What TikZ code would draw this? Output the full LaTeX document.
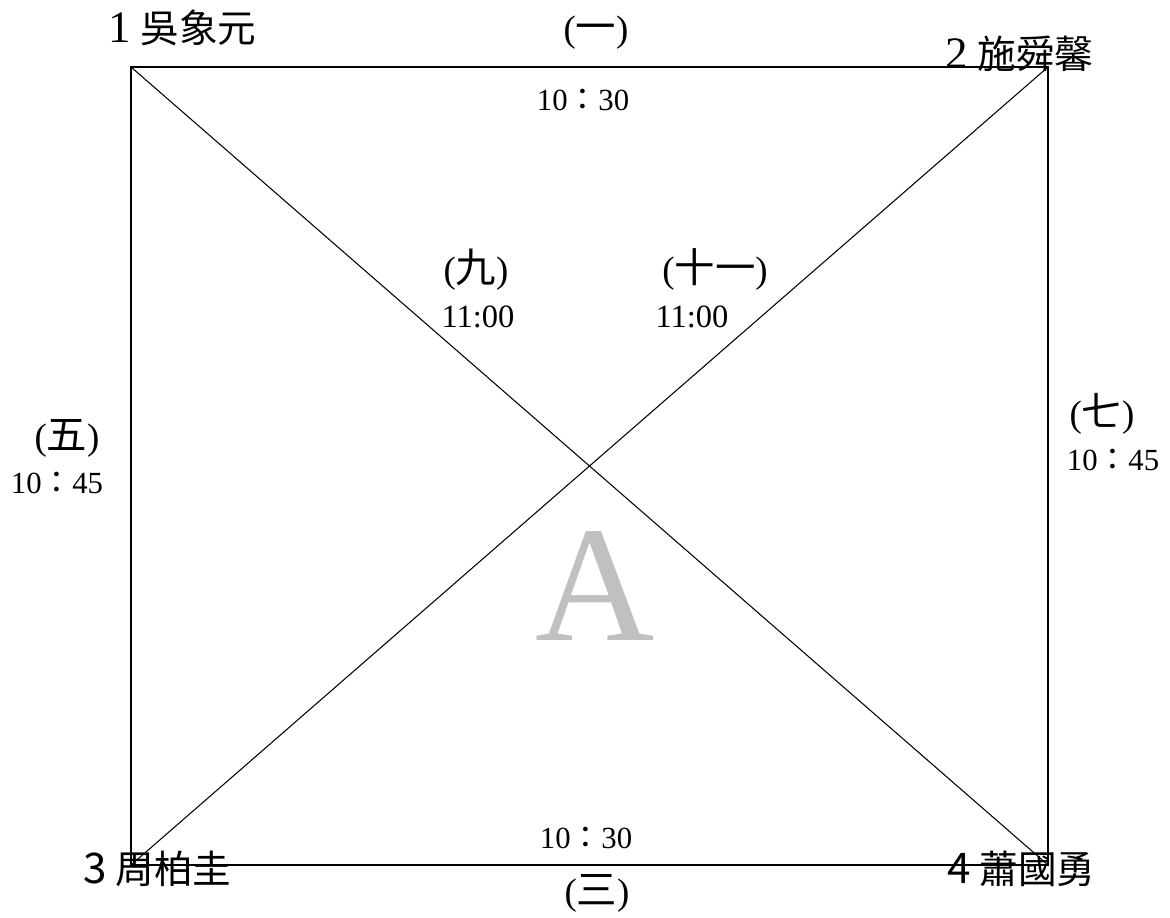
\documentclass[tikz,border=0pt]{standalone}
\usepackage{fontspec}
\setmainfont{Liberation Serif}
\newfontfamily\cjk{Noto Sans CJK TC}
\newcommand{\Zahl}[1]{{\cjk\fontsize{23}{27}\selectfont #1}}
\definecolor{Grau}{RGB}{192,192,192}

\begin{document}
\begin{tikzpicture}[x=0.02cm, y=-0.02cm,
	Rand/.style={line width=1.1pt},
	Diagonale/.style={line width=0.6pt},
	Name/.style={anchor=base west, inner sep=0pt, font=\fontsize{22}{26}\selectfont},
	Runde/.style={anchor=base, inner sep=0pt, font=\fontsize{21}{25}\selectfont},
	Zeit/.style={anchor=base, inner sep=0pt, font=\fontsize{17.5}{21}\selectfont}]
				\useasboundingbox (0,0) rectangle (1170,917);
				\coordinate (e1) at (131,67);
				\coordinate (e2) at (1048,67);
				\coordinate (e3) at (131,865);
				\coordinate (e4) at (1048,865);
				\draw[Rand] (e1) -- (e2) -- (e4) -- (e3) -- cycle;
				\draw[Diagonale] (e1) -- (e4);
				\draw[Diagonale] (e2) -- (e3);
				% Namen an den Ecken
				\node[Name] (n1) at (108,42) {{\fontsize{25.6}{30}\selectfont 1} \cjk 吳象元};
				\node[Name] (n2) at (945,68) {{\fontsize{25.6}{30}\selectfont 2} \cjk 施舜馨};
				\node[Name] (n3) at (83,883) {\cjk{\fontsize{24}{28}\selectfont 3} 周柏圭};
				\node[Name] (n4) at (947,883) {\cjk{\fontsize{24}{28}\selectfont 4} 蕭國勇};
				% Runden und Zeiten
				\node[Runde] (r1) at (596,41) {(\Zahl{一})};
				\node[Zeit] (z1) at (583,110) {10\cjk ：\rmfamily30};
				\node[Zeit] (z3) at (586,848) {10\cjk ：\rmfamily30};
				\node[Runde] (r3) at (597,904) {(\Zahl{三})};
				\node[Runde] (r5) at (67,449) {(\Zahl{五})};
				\node[Zeit] (z5) at (57,493) {10\cjk ：\rmfamily45};
				\node[Runde] (r7) at (1102,426) {(\Zahl{七})};
				\node[Zeit] (z7) at (1113,470) {10\cjk ：\rmfamily45};
				\node[Runde] (r9) at (476,282) {(\Zahl{九})};
				\node[Zeit, font=\fontsize{18.5}{22}\selectfont] (z9) at (478,327) {11:00};
				\node[Runde] (r11) at (715,282) {(\Zahl{十一})};
				\node[Zeit, font=\fontsize{18.5}{22}\selectfont] (z11) at (692,327) {11:00};
				% Feld
				\node[anchor=base, inner sep=0pt, text=Grau, font=\fontsize{94}{100}\selectfont] (feld) at (595,640) {A};
			\end{tikzpicture}
\end{document}
